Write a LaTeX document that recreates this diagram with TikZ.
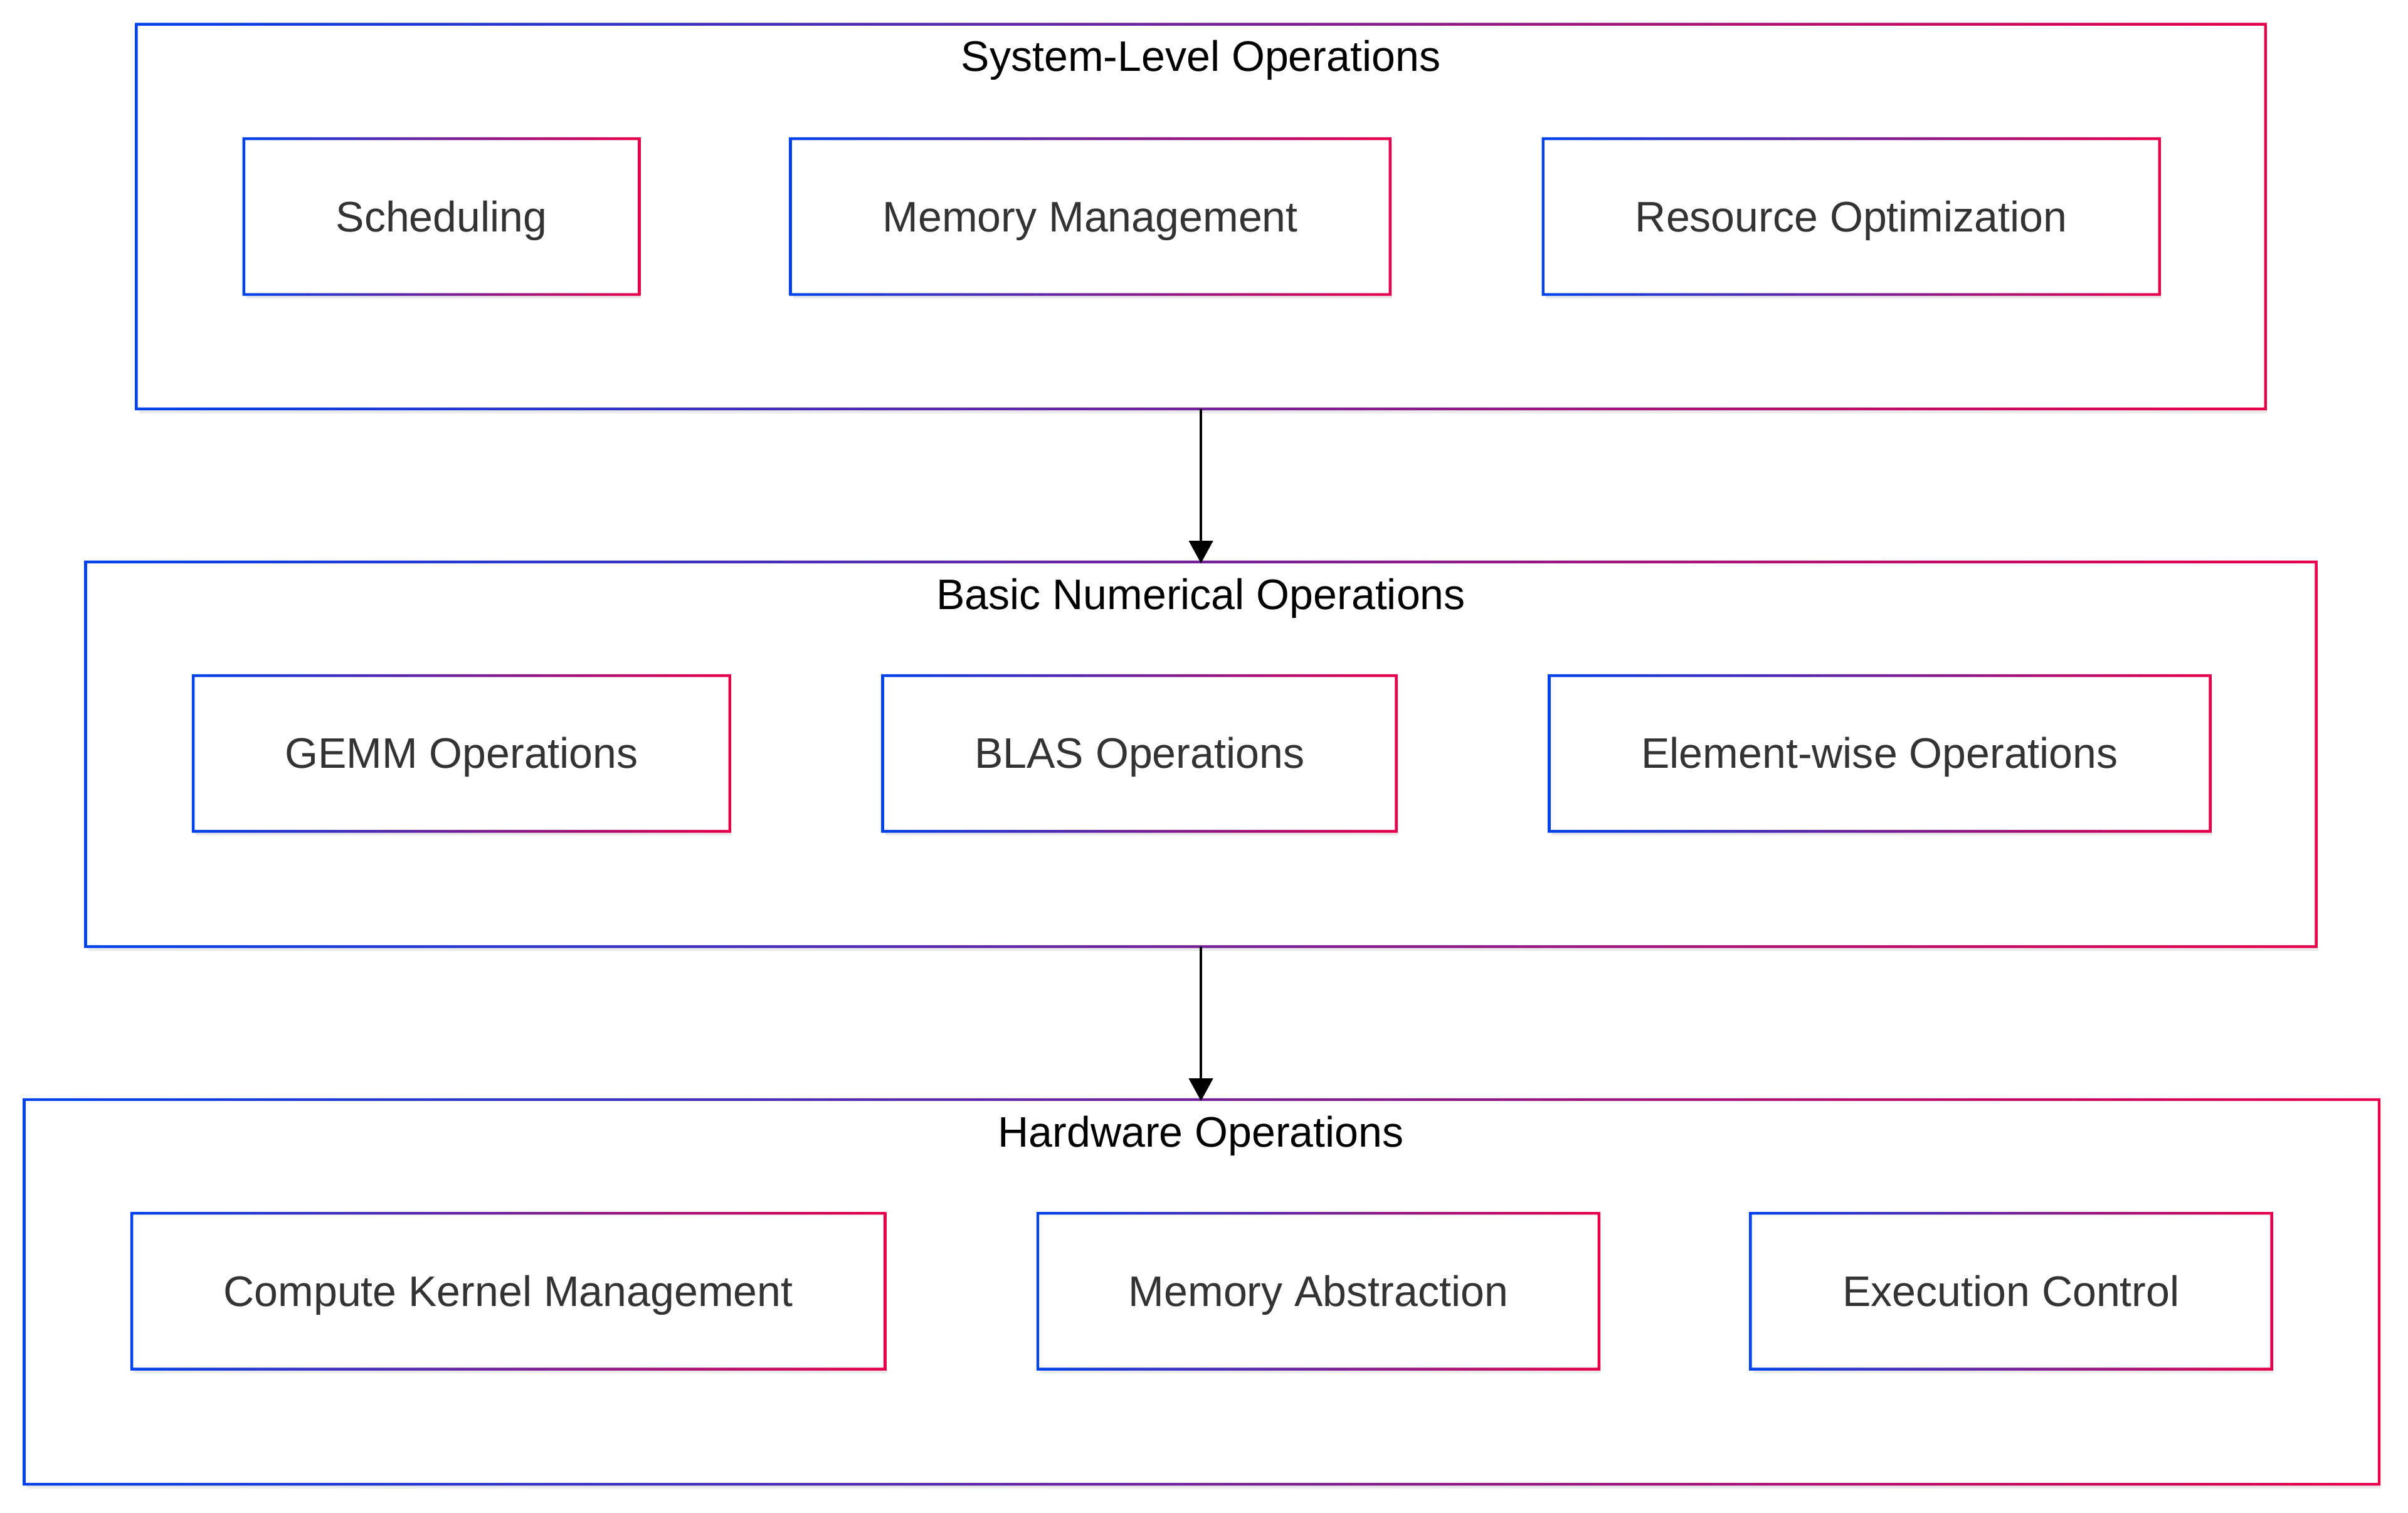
\documentclass[tikz,border=0pt]{standalone}
\usepackage{fontspec}
\setmainfont{Liberation Sans}
\usetikzlibrary{arrows.meta,shadows}
\definecolor{gblue}{RGB}{0,66,235}
\definecolor{gred}{RGB}{232,0,74}
\definecolor{labelgrey}{RGB}{51,51,51}
% blue-to-red frame round a named node
\newcommand{\gradframe}[1]{\shade[left color=gblue,right color=gred,even odd rule]
  ([shift={(-0.9,-0.9)}]#1.south west) rectangle ([shift={(0.9,0.9)}]#1.north east)
  ([shift={(0.9,0.9)}]#1.south west) rectangle ([shift={(-0.9,-0.9)}]#1.north east);}
\tikzset{
  layer/.style={rectangle,fill=white,inner sep=0pt,minimum height=250pt,
    drop shadow={shadow xshift=1.5pt,shadow yshift=-3pt,opacity=0.08,fill=black}},
  opbox/.style={rectangle,fill=white,inner sep=0pt,minimum height=101pt,
    text=labelgrey,font=\fontsize{27.8}{33}\selectfont,
    text height=25pt,text depth=5.6pt,
    drop shadow={shadow xshift=1.5pt,shadow yshift=-3pt,opacity=0.08,fill=black}},
  layertitle/.style={anchor=base,inner sep=0pt,font=\fontsize{27.8}{33}\selectfont},
  flow/.style={-{Triangle[width=15.5pt,length=14.7pt]},line width=1.9pt,shorten >=-0.9pt}
}
\begin{document}
\begin{tikzpicture}[x=1pt,y=1pt]
\useasboundingbox (0,0) rectangle (1568,-984.5);
\node[layer,minimum width=1386pt] (sys) at (782,-141) {};
\node[layer,minimum width=1452pt] (num) at (782,-491) {};
\node[layer,minimum width=1533pt] (hw) at (782.5,-841) {};
\gradframe{sys}
\gradframe{num}
\gradframe{hw}
\node[layertitle] (sysT) at (782,-46.5) {System-Level Operations};
\node[layertitle] (numT) at (782,-396.5) {Basic Numerical Operations};
\node[layertitle] (hwT) at (782,-746.5) {Hardware Operations};
\node[opbox,minimum width=257pt] (sched) at (287.5,-141) {Scheduling};
\node[opbox,minimum width=390pt] (memman) at (710,-141) {Memory Management};
\node[opbox,minimum width=401pt] (resopt) at (1205.5,-141) {Resource Optimization};
\node[opbox,minimum width=349pt] (gemm) at (300.5,-490.5) {GEMM Operations};
\node[opbox,minimum width=334pt] (blas) at (742,-490.5) {BLAS Operations};
\node[opbox,minimum width=430pt] (elem) at (1224,-490.5) {Element-wise Operations};
\node[opbox,minimum width=490pt] (kernel) at (331,-840.5) {Compute Kernel Management};
\node[opbox,minimum width=365pt] (memabs) at (858.5,-840.5) {Memory Abstraction};
\node[opbox,minimum width=339pt] (exec) at (1309.5,-840.5) {Execution Control};
\foreach \b in {sched,memman,resopt,gemm,blas,elem,kernel,memabs,exec}
  {\gradframe{\b}}
\draw[flow] (sys.south) -- (num.north);
\draw[flow] (num.south) -- (num.south |- hw.north);
\end{tikzpicture}
\end{document}
